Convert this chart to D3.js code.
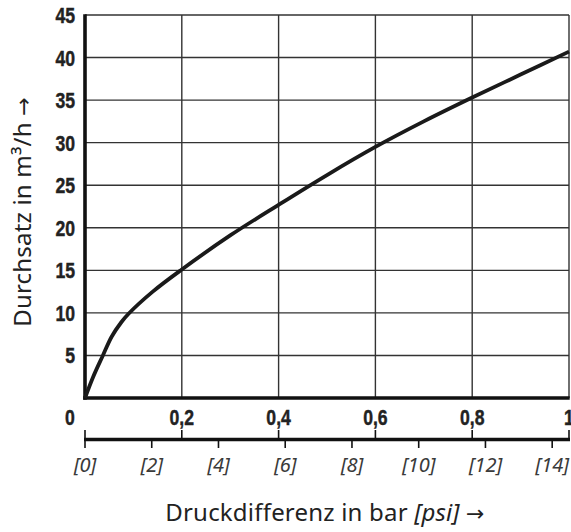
<!DOCTYPE html>
<html><head><meta charset="utf-8">
<script src="https://cdn.jsdelivr.net/npm/d3@7"></script>
<style>body{margin:0;background:#fff}svg{display:block}</style>
</head><body>
<svg id="c" width="571" height="532"></svg>
<script>
const barTicks = [0.2, 0.4, 0.6, 0.8, 1];
const barLabels = ["0,2", "0,4", "0,6", "0,8", "1"];
const yTicks = [5, 10, 15, 20, 25, 30, 35, 40, 45];
const psiTicks = [0, 2, 4, 6, 8, 10, 12, 14];
const psiLabels = ["[0]", "[2]", "[4]", "[6]", "[8]", "[10]", "[12]", "[14]"];
const dpBar = [0, 0.017, 0.037, 0.055, 0.075, 0.09, 0.14, 0.2, 0.3, 0.4, 0.5, 0.6, 0.7, 0.8, 0.9, 1.0];
const flow  = [0, 2.5, 5, 7.2, 8.9, 9.9, 12.5, 15.1, 19.1, 22.7, 26.2, 29.5, 32.5, 35.3, 38.0, 40.7];
const BAR_TO_PSI = 14.5038;

const svg = d3.select("#c");
const L = 85, R = 569, T = 15, B = 398;
const x = d3.scaleLinear().domain([0, 1]).range([L, R]);
const xp = d3.scaleLinear().domain([0, BAR_TO_PSI]).range([L, R]);
const y = d3.scaleLinear().domain([0, 45]).range([B, T]);

const numFont = "'Liberation Sans',Arial,sans-serif";
const txtFont = "'Noto Sans','Open Sans',sans-serif";
const SX = 0.8, NFS = 22;

// grid
const g = svg.append("g");
g.selectAll(".gx").data(barTicks).join("line")
  .attr("x1", d => x(d)).attr("x2", d => x(d)).attr("y1", T).attr("y2", B)
  .attr("stroke", "#333").attr("stroke-width", 1.4);
g.selectAll(".gy").data(yTicks).join("line")
  .attr("x1", L).attr("x2", R).attr("y1", d => y(d)).attr("y2", d => y(d))
  .attr("stroke", "#333").attr("stroke-width", 1.4);

// main axes (thick)
svg.append("line").attr("x1", L).attr("x2", L).attr("y1", T - 0.7).attr("y2", B + 1.7)
  .attr("stroke", "#111").attr("stroke-width", 3.6);
svg.append("line").attr("x1", L - 1.8).attr("x2", R + 0.7).attr("y1", B).attr("y2", B)
  .attr("stroke", "#111").attr("stroke-width", 3.4);

// curve
const pts = dpBar.map((d, i) => [d, flow[i]]);
svg.append("path").datum(pts)
  .attr("d", d3.line().x(d => x(d[0])).y(d => y(d[1])).curve(d3.curveCatmullRom.alpha(0.5)))
  .attr("fill", "none").attr("stroke", "#1a1a1a").attr("stroke-width", 3.8)
  .attr("stroke-linecap", "butt");

function numStyle(sel) {
  sel.attr("font-family", numFont).attr("font-weight", "bold").attr("font-size", NFS)
    .attr("fill", "#222").attr("stroke", "#222").attr("stroke-width", 0.45);
}

// y labels
svg.selectAll(".yl").data(yTicks).join("text")
  .attr("transform", d => `translate(75,${y(d) + 8}) scale(${SX},1)`).attr("text-anchor", "end")
  .call(numStyle).text(d => d);

// x labels (bar)
svg.selectAll(".xl").data(barTicks).join("text")
  .attr("transform", d => `translate(${x(d)},425) scale(${SX},1)`).attr("text-anchor", "middle")
  .call(numStyle).text((d, i) => barLabels[i]);
svg.append("text").attr("transform", `translate(70,425) scale(${SX},1)`).attr("text-anchor", "middle")
  .call(numStyle).text("0");

// secondary psi axis
const PY = 439.5;
svg.append("line").attr("x1", L - 1).attr("x2", R + 1).attr("y1", PY).attr("y2", PY)
  .attr("stroke", "#111").attr("stroke-width", 3.4);
svg.selectAll(".bt").data([0].concat(barTicks)).join("line")
  .attr("x1", d => x(d)).attr("x2", d => x(d)).attr("y1", 430).attr("y2", PY)
  .attr("stroke", "#111").attr("stroke-width", 1.6);
svg.selectAll(".pt").data(psiTicks).join("line")
  .attr("x1", d => xp(d)).attr("x2", d => xp(d)).attr("y1", PY).attr("y2", 448)
  .attr("stroke", "#111").attr("stroke-width", 1.6);
svg.selectAll(".pl").data(psiTicks).join("text")
  .attr("x", d => xp(d)).attr("y", 472).attr("text-anchor", "middle")
  .attr("font-family", txtFont).attr("font-style", "italic").attr("font-size", 20)
  .attr("fill", "#3a3a3a").text((d, i) => psiLabels[i]);

// titles
const xt = svg.append("text").attr("x", 325).attr("y", 521).attr("text-anchor", "middle")
  .attr("font-family", txtFont).attr("font-size", 24).attr("letter-spacing", 0.2).attr("fill", "#222");
xt.append("tspan").text("Druckdifferenz in bar ");
xt.append("tspan").attr("font-style", "italic").text("[psi]");
xt.append("tspan").text(" ");
xt.append("tspan").attr("font-family", "'DejaVu Sans',sans-serif").attr("font-size", 22).text("\u2192");

const yt = svg.append("text").attr("transform", "translate(31,212) rotate(-90)")
  .attr("text-anchor", "middle").attr("font-family", txtFont).attr("font-size", 24)
  .attr("letter-spacing", 0.2).attr("fill", "#222");
yt.append("tspan").text("Durchsatz in m\u00b3/h ");
yt.append("tspan").attr("font-family", "'DejaVu Sans',sans-serif").attr("font-size", 22).text("\u2192");
</script>
</body></html>
